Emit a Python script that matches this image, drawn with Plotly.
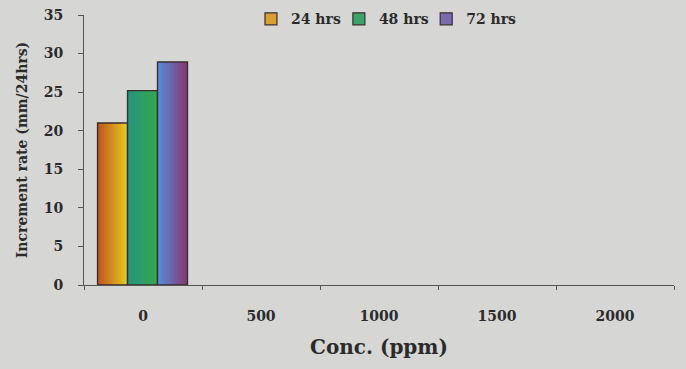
import plotly.graph_objects as go

categories = ["0", "500", "1000", "1500", "2000"]
series_names = ["24 hrs", "48 hrs", "72 hrs"]
vals_24 = [21.0, 0, 0, 0, 0]
vals_48 = [25.2, 0, 0, 0, 0]
vals_72 = [28.9, 0, 0, 0, 0]
y_ticks = [0, 5, 10, 15, 20, 25, 30, 35]

series_vals = [vals_24, vals_48, vals_72]
# left / right colours for the shaded look of each series
shade_left = [(195, 90, 30), (38, 148, 125), (85, 140, 215)]
shade_right = [(228, 200, 35), (52, 168, 78), (135, 58, 118)]
legend_col = ["#d8a030", "#3aa46a", "#7a6ab0"]
legend_ids = ["legend", "legend2", "legend3"]
legend_x = [0.283, 0.432, 0.580]

FONT = "DejaVu Serif"
TXT = "#2b2b2b"
bar_w = 0.254
offsets = [-0.385, -0.131, 0.123]
N = 10

fig = go.Figure()
for k, vals in enumerate(series_vals):
    sw = bar_w / N
    for j in range(N):
        t = j / (N - 1)
        c = tuple(int(shade_left[k][i] + (shade_right[k][i] - shade_left[k][i]) * t) for i in range(3))
        fig.add_trace(go.Bar(
            x=categories, y=vals, width=bar_w - j * sw, offset=offsets[k] + j * sw,
            marker=dict(color="rgb(%d,%d,%d)" % c, line=dict(width=0)),
            showlegend=False, hoverinfo="skip"))
    # outline
    fig.add_trace(go.Bar(
        x=categories, y=vals, width=bar_w, offset=offsets[k], name=series_names[k],
        marker=dict(color="rgba(0,0,0,0)",
                    line=dict(color="#3a2e2e", width=[1.4 if v > 0 else 0 for v in vals])),
        showlegend=False))
    # legend entry
    fig.add_trace(go.Bar(
        x=categories, y=[None] * len(categories), name=series_names[k],
        marker=dict(color=legend_col[k], line=dict(color="#3a2e2e", width=1.2)),
        showlegend=True, legend=legend_ids[k]))

leg_common = dict(orientation="h", y=0.948, yref="container", xanchor="left", yanchor="middle",
                  font=dict(family=FONT, size=14, color=TXT, weight="bold"),
                  bgcolor="rgba(0,0,0,0)", itemwidth=30)
fig.update_layout(
    width=686, height=369,
    barmode="overlay",
    paper_bgcolor="#d6d6d5", plot_bgcolor="#d6d6d5",
    margin=dict(l=84, r=12, t=15, b=84, autoexpand=False),
    font=dict(family=FONT, color=TXT),
    legend=dict(x=legend_x[0], **leg_common),
    legend2=dict(x=legend_x[1], **leg_common),
    legend3=dict(x=legend_x[2], **leg_common),
    showlegend=True,
)
fig.update_xaxes(
    type="category", range=[-0.5, 4.5], tickson="boundaries",
    ticks="outside", ticklen=4, tickcolor="#555", showline=True, linecolor="#555", linewidth=1,
    showgrid=False, zeroline=False, ticklabelstandoff=18,
    tickfont=dict(family=FONT, size=14, weight="bold", color=TXT),
    title=dict(text="Conc. (ppm)", font=dict(family=FONT, size=20, weight="bold", color=TXT), standoff=17),
)
fig.update_yaxes(
    range=[0, 35], tickvals=y_ticks, ticks="outside", ticklen=5, tickcolor="#555",
    showline=True, linecolor="#555", linewidth=1, showgrid=False, zeroline=False,
    ticklabelstandoff=12,
    tickfont=dict(family=FONT, size=14, weight="bold", color=TXT),
    title=dict(text="Increment rate (mm/24hrs)", font=dict(family=FONT, size=14, weight="bold", color=TXT), standoff=12),
)
fig.write_html("out.html")
